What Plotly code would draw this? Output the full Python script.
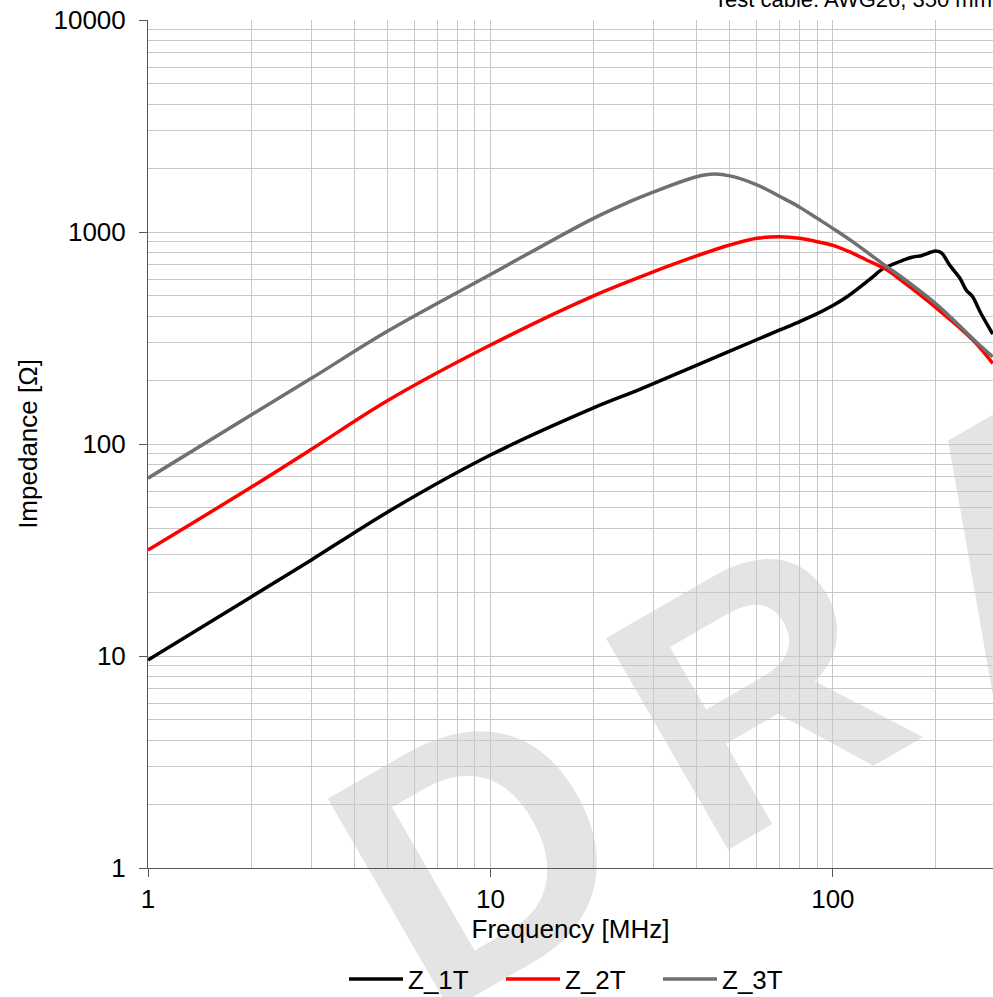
import plotly.graph_objects as go
import math

# ---- data ----
freq_3t = [1, 2, 3, 5, 10, 20, 25.5, 30, 40, 45, 50, 60, 70, 80, 90, 100, 112, 144, 157, 200, 268, 293]
z_3t = [69, 137, 204, 340, 630, 1160, 1390, 1547, 1823, 1878, 1840, 1670, 1470, 1310, 1160, 1040, 920, 684, 620, 458, 293, 258]

freq_2t = [1, 2, 3, 5, 10, 20, 30, 40, 50, 60, 70, 80, 90, 100, 112, 125, 144, 157, 200, 256, 293]
z_2t = [31.6, 62.5, 94.4, 160, 293, 500, 650, 771, 868, 934, 950, 934, 900, 865, 805, 740, 662, 598, 440, 310, 240]

freq_1t = [1, 2, 3, 5, 10, 20, 27.3, 51, 70, 80, 90, 100, 110, 120, 130, 140, 150, 160, 170, 182, 192, 200, 208, 219, 235, 245, 256, 270, 293]
z_1t = [9.58, 19.0, 28.4, 47.7, 88.7, 148, 181, 278, 345, 378, 412, 450, 495, 550, 610, 670, 705, 735, 760, 775, 800, 813, 795, 700, 605, 533, 495, 416, 330]

series_names = ["Z_1T", "Z_2T", "Z_3T"]
series_colors = ["#000000", "#ff0000", "#707070"]
series_smoothing = [0.8, 1.0, 1.0]

x_major = [1, 10, 100]
x_major_text = ["1", "10", "100"]
y_major = [1, 10, 100, 1000, 10000]
y_major_text = ["1", "10", "100", "1000", "10000"]

title_text = "Test cable: AWG26, 350 mm"
x_title = "Frequency [MHz]"
y_title = "Impedance [Ω]"
watermark_letters = ["D", "R", "A", "F", "T"]

x_minor = [m * d for d in (1, 10, 100) for m in range(2, 10)]
y_minor = [m * d for d in (1, 10, 100, 1000) for m in range(2, 10)]

FONT = "Liberation Sans, Arial, sans-serif"
GRID = "#c8c8c8"
AXIS = "#595959"

W, H = 993, 997
# plot area in page pixels
PL, PR, PT, PB = 148, 993, 20, 868
PW, PH = PR - PL, PB - PT

fig = go.Figure()
for fx, zy, name, col, sm in zip([freq_1t, freq_2t, freq_3t], [z_1t, z_2t, z_3t],
                                 series_names, series_colors, series_smoothing):
    fig.add_trace(go.Scatter(x=fx, y=zy, mode="lines", name=name,
                             line=dict(color=col, width=3.5, shape="spline", smoothing=sm)))

fig.update_layout(
    width=W, height=H,
    margin=dict(l=PL, r=W - PR, t=PT, b=H - PB, autoexpand=False),
    paper_bgcolor="white", plot_bgcolor="rgba(0,0,0,0)",
    font=dict(family=FONT, size=26, color="#000000"),
    showlegend=True,
    legend=dict(orientation="h", x=0.5 + 9 / PW, xanchor="center",
                yref="container", y=(H - 979) / H, yanchor="middle",
                font=dict(size=26), itemwidth=54, entrywidth=88, bgcolor="rgba(0,0,0,0)"),
)

fig.update_xaxes(type="log", range=[0, math.log10(293.5)],
                 tickvals=x_major, ticktext=x_major_text,
                 ticks="outside", ticklen=8, tickcolor=AXIS, tickwidth=1,
                 showline=True, linecolor=AXIS, linewidth=1,
                 showgrid=True, gridcolor=GRID, gridwidth=1,
                 minor=dict(tickmode="array", tickvals=x_minor, showgrid=True, gridcolor=GRID, gridwidth=1, ticks=""),
                 title=dict(text=x_title, standoff=2, font=dict(size=26)),
                 zeroline=False, automargin=False)
fig.update_yaxes(type="log", range=[0, 4],
                 tickvals=y_major, ticktext=y_major_text,
                 ticks="outside", ticklen=8, tickcolor=AXIS, tickwidth=1,
                 ticklabelstandoff=8,
                 showline=True, linecolor=AXIS, linewidth=1,
                 showgrid=True, gridcolor=GRID, gridwidth=1,
                 minor=dict(tickmode="array", tickvals=y_minor, showgrid=True, gridcolor=GRID, gridwidth=1, ticks=""),
                 title=dict(text=y_title, standoff=8, font=dict(size=26)),
                 zeroline=False, automargin=False)

# watermark letters, drawn below the gridlines, along a 30 degree line
ang = math.radians(30)
bx, by = math.cos(ang), -math.sin(ang)
d_cx, d_cy, step = 462, 822, 321
for i, ch in enumerate(watermark_letters):
    px = d_cx + bx * step * i
    py = d_cy + by * step * i
    cx, cy = (px - PL) / PW, (PB - py) / PH
    fig.add_shape(type="rect", xref="paper", yref="paper",
                  x0=cx - 0.001, x1=cx + 0.001, y0=cy - 0.001, y1=cy + 0.001,
                  line=dict(width=0), fillcolor="rgba(0,0,0,0)", layer="below",
                  label=dict(text=ch, textangle=-30, textposition="middle center",
                             font=dict(family=FONT, size=355, color="#e4e4e4", weight="bold")))

fig.add_annotation(text=title_text, xref="paper", yref="paper",
                   x=(712 - PL) / PW, y=1 + PT / PH, xanchor="left", yanchor="middle",
                   showarrow=False, font=dict(size=22, family=FONT, color="#000000"))

fig.write_html("out.html", config={"displayModeBar": False},
               post_script="document.body.style.margin='0px';")
